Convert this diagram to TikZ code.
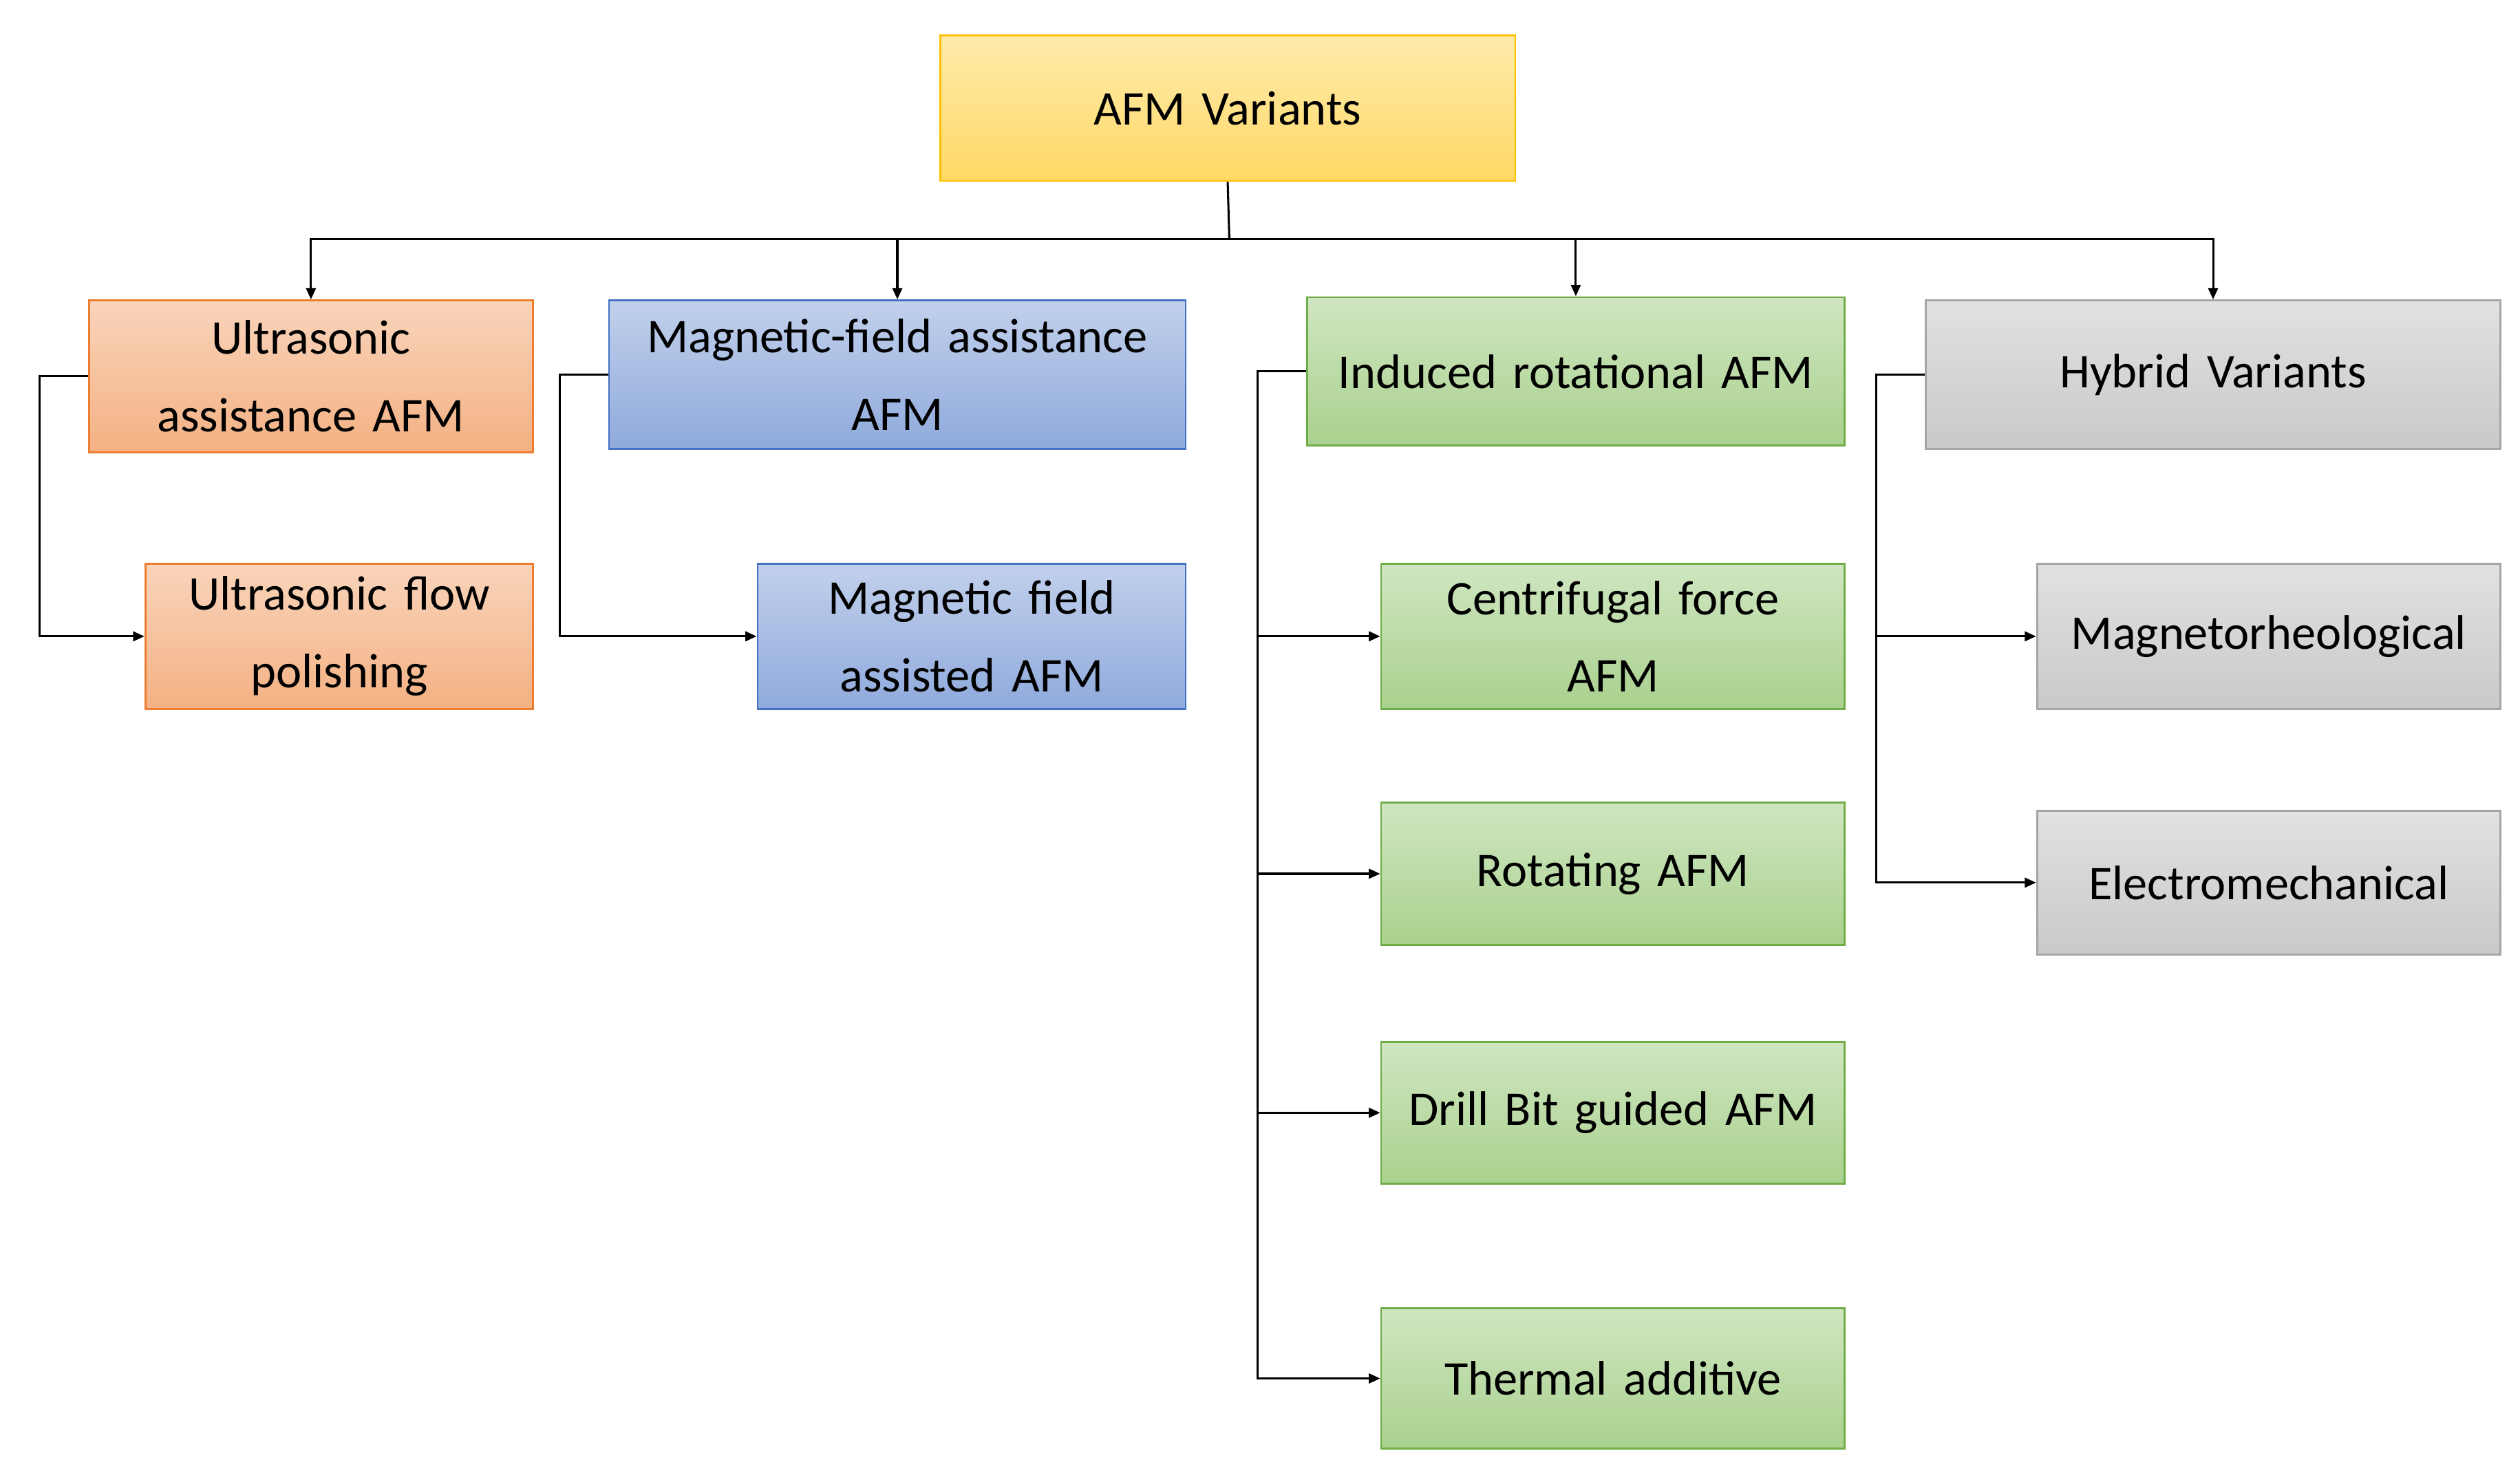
\documentclass[tikz,border=0pt]{standalone}
\usepackage{fontspec}
\setmainfont{Carlito}
\usetikzlibrary{arrows.meta}
\definecolor{goldF}{HTML}{FFD966}\definecolor{goldD}{HTML}{FFC000}
\definecolor{orF}{HTML}{F4B183}\definecolor{orD}{HTML}{ED7D31}
\definecolor{blF}{HTML}{8FAADC}\definecolor{blD}{HTML}{4472C4}
\definecolor{grF}{HTML}{A9D18E}\definecolor{grD}{HTML}{70AD47}
\definecolor{gyF}{HTML}{C9C9C9}\definecolor{gyD}{HTML}{A5A5A5}
\begin{document}
\begin{tikzpicture}[x=1pt,y=-1pt,
 box/.style={draw=#1D,line width=1.2pt,top color=#1F!55,bottom color=#1F,align=center,font=\fontsize{30}{48}\selectfont,inner sep=0pt},
 con/.style={line width=1.3pt,-{Triangle[length=7pt,width=6pt]}},
 ln/.style={line width=1.3pt}]
\useasboundingbox (0,0) rectangle (1560,905);
\newcommand{\bx}[7]{\node[box=#6,minimum width=#3-#2,minimum height=#5-#4,text width=#3-#2] (#1) at ({(#2+#3)/2},{(#4+#5)/2}) {#7};}
\bx{root}{582}{938}{22}{112}{gold}{AFM Variants}
\bx{ua}{55}{330}{186}{280}{or}{Ultrasonic\\assistance AFM}
\bx{uf}{90}{330}{349}{439}{or}{Ultrasonic flow\\polishing}
\bx{ma}{377}{734}{186}{278}{bl}{Magnetic-field assistance\\AFM}
\bx{mf}{469}{734}{349}{439}{bl}{Magnetic field\\assisted AFM}
\bx{ir}{809}{1142}{184}{276}{gr}{Induced rotational AFM}
\bx{cf}{855}{1142}{349}{439}{gr}{Centrifugal force\\AFM}
\bx{ro}{855}{1142}{497}{585}{gr}{Rotating AFM}
\bx{db}{855}{1142}{645}{733}{gr}{Drill Bit guided AFM}
\bx{ta}{855}{1142}{810}{897}{gr}{Thermal additive}
\bx{hv}{1192}{1548}{186}{278}{gy}{Hybrid Variants}
\bx{mr}{1261}{1548}{349}{439}{gy}{Magnetorheological}
\bx{em}{1261}{1548}{502}{591}{gy}{Electromechanical}
\coordinate (j) at (761,148);
\draw[ln] (root.south) -- (j);
\foreach \n in {ua,ma,ir,hv} \draw[con] (j) -| (\n.north);
\draw[con] (ua.west) -- ++(-30,0) |- (uf.west);
\draw[con] (ma.west) -- ++(-30,0) |- (mf.west);
\foreach \n in {cf,ro,db,ta} \draw[con] (ir.west) -- ++(-30,0) |- (\n.west);
\foreach \n in {mr,em} \draw[con] (hv.west) -- ++(-30,0) |- (\n.west);
\end{tikzpicture}
\end{document}
